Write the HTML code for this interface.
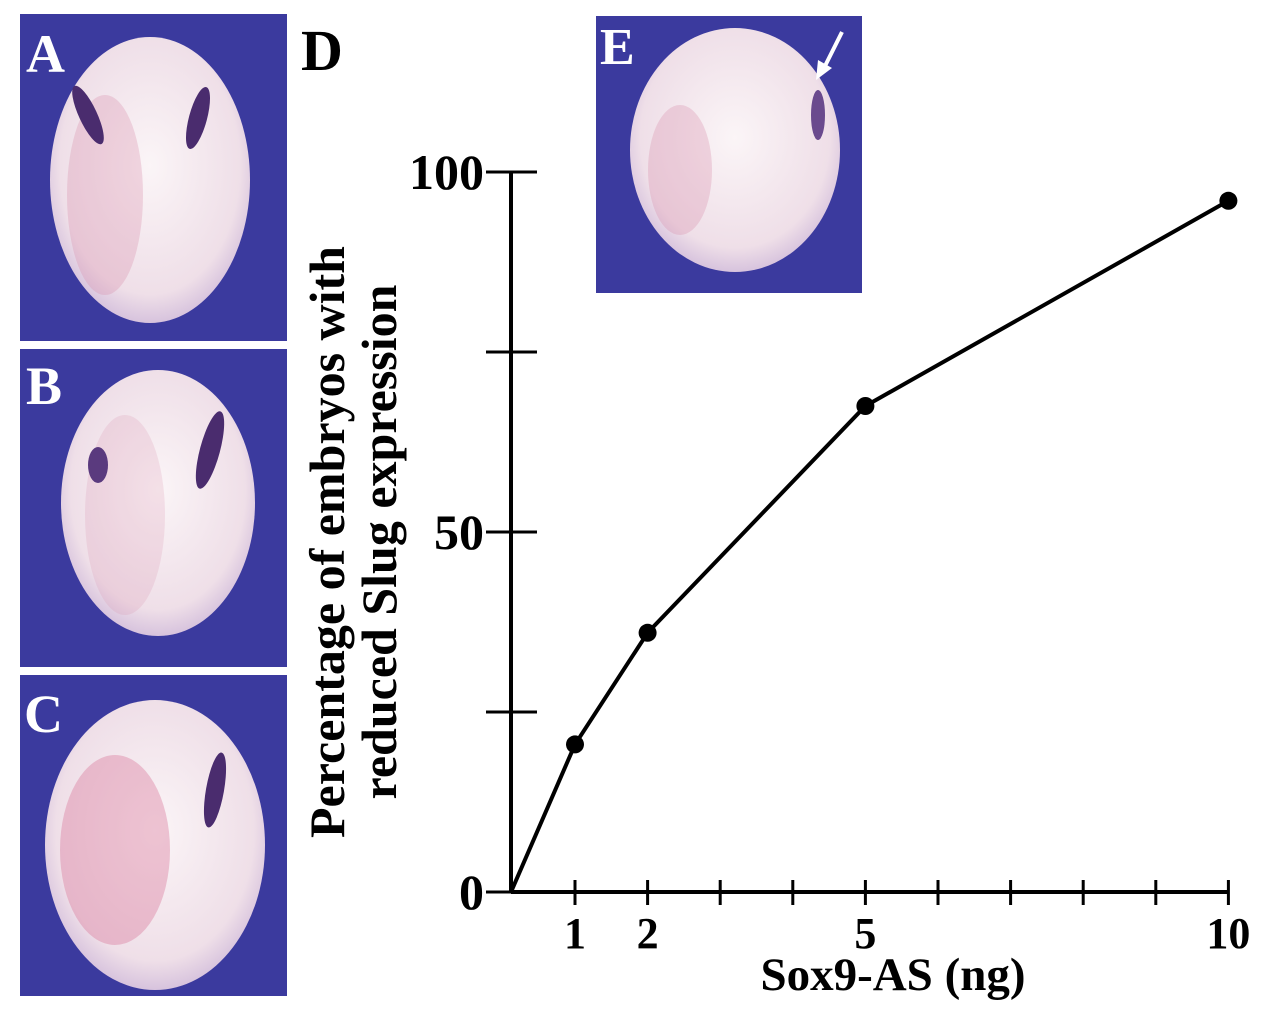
<!DOCTYPE html>
<html><head><meta charset="utf-8"><style>
body{margin:0;background:#fff;width:1280px;height:1015px;overflow:hidden;font-family:"Liberation Serif",serif}
svg{position:absolute;left:0;top:0}
</style></head><body>
<svg width="1280" height="1015" viewBox="0 0 1280 1015">
<defs>
<radialGradient id="emb" cx="0.5" cy="0.45" r="0.6">
<stop offset="0" stop-color="#fbf5f7"/><stop offset="0.75" stop-color="#efdfe8"/><stop offset="1" stop-color="#cbb5d8"/>
</radialGradient>
</defs>
<g>
<rect x="20" y="14" width="267" height="327" fill="#3b3a9e"/>
<ellipse cx="150" cy="180" rx="100" ry="143" fill="url(#emb)"/>
<ellipse cx="105" cy="195" rx="38" ry="100" fill="#d88aa8" opacity="0.3"/>
<ellipse cx="88" cy="115" rx="9" ry="32" fill="#4a2c6e" transform="rotate(-25 88 115)"/>
<ellipse cx="198" cy="118" rx="9" ry="32" fill="#4a2c6e" transform="rotate(15 198 118)"/>
<text x="26" y="72" font-size="54" font-weight="bold" fill="#fff">A</text>
</g>
<g>
<rect x="20" y="349" width="267" height="318" fill="#3b3a9e"/>
<ellipse cx="158" cy="503" rx="97" ry="133" fill="url(#emb)"/>
<ellipse cx="125" cy="515" rx="40" ry="100" fill="#d88aa8" opacity="0.2"/>
<ellipse cx="98" cy="465" rx="10" ry="18" fill="#5a3a7e"/>
<ellipse cx="210" cy="450" rx="10" ry="40" fill="#4a2c6e" transform="rotate(15 210 450)"/>
<text x="26" y="404" font-size="54" font-weight="bold" fill="#fff">B</text>
</g>
<g>
<rect x="20" y="675" width="267" height="321" fill="#3b3a9e"/>
<ellipse cx="155" cy="845" rx="110" ry="145" fill="url(#emb)"/>
<ellipse cx="115" cy="850" rx="55" ry="95" fill="#d9789c" opacity="0.4"/>
<ellipse cx="215" cy="790" rx="9" ry="38" fill="#4a2c6e" transform="rotate(10 215 790)"/>
<text x="24" y="732" font-size="54" font-weight="bold" fill="#fff">C</text>
</g>
<g>
<rect x="596" y="16" width="266" height="277" fill="#3b3a9e"/>
<ellipse cx="735" cy="150" rx="105" ry="122" fill="url(#emb)"/>
<ellipse cx="680" cy="170" rx="32" ry="65" fill="#d88aa8" opacity="0.3"/>
<ellipse cx="818" cy="115" rx="7" ry="25" fill="#6a4a8e"/>
<line x1="842" y1="32" x2="823" y2="70" stroke="#fff" stroke-width="4"/>
<polygon points="816,80 818,60 832,68" fill="#fff"/>
<text x="600" y="64" font-size="52" font-weight="bold" fill="#fff">E</text>
</g>
<text x="301" y="70" font-size="58" font-weight="bold" fill="#000">D</text>
<g id="chart"></g>
</svg>
<script>
const doses=[0,1,2,5,10];
const percents=[0,20.5,36,67.5,96];
const yTicks=[0,25,50,75,100];
const yTickLabels=["0","","50","","100"];
const xTicks=[1,2,3,4,5,6,7,8,9,10];
const xTickLabels=["1","2","","","5","","","","","10"];
const NS="http://www.w3.org/2000/svg";
const g=document.getElementById('chart');
function xs(v){return v===0?511:575+(v-1)*72.6;}
function ys(v){return 892-v*7.2;}
function mk(t,a){const e=document.createElementNS(NS,t);for(const k in a)e.setAttribute(k,a[k]);g.appendChild(e);return e;}
let e=mk('line',{x1:511,y1:ys(100),x2:511,y2:892,stroke:'#000','stroke-width':4});


e=mk('line',{x1:511,y1:892,x2:xs(10),y2:892,stroke:'#000','stroke-width':4});


yTicks.forEach((v,i)=>{
 let t=mk('line',{x1:486,y1:ys(v),x2:537,y2:ys(v),stroke:'#000','stroke-width':3});
 
 
 if(yTickLabels[i]){let l=mk('text',{x:484,y:ys(v)+17,'text-anchor':'end','font-size':50,'font-weight':'bold'});l.textContent=yTickLabels[i];
 
 }
});
xTicks.forEach((v,i)=>{
 let t=mk('line',{x1:xs(v),y1:880,x2:xs(v),y2:905,stroke:'#000','stroke-width':3});
 
 
 if(xTickLabels[i]){let l=mk('text',{x:xs(v),y:948,'text-anchor':'middle','font-size':44,'font-weight':'bold'});l.textContent=xTickLabels[i];
 
 }
});
let pts=doses.map((d,i)=>xs(d)+','+ys(percents[i])).join(' ');
e=mk('polyline',{points:pts,fill:'none',stroke:'#000','stroke-width':4});


doses.forEach((d,i)=>{if(i===0)return;
 let c=mk('circle',{cx:xs(d),cy:ys(percents[i]),r:9,fill:'#000'});
 
 
});
e=mk('text',{x:893,y:990,'text-anchor':'middle','font-size':47,'font-weight':'bold'});e.textContent='Sox9-AS (ng)';


e=mk('text',{x:0,y:0,'text-anchor':'middle','font-size':50,'font-weight':'bold',transform:'translate(344,542) rotate(-90)'});


const t1=document.createElementNS(NS,'tspan');t1.setAttribute('x',0);t1.setAttribute('dy',0);t1.textContent='Percentage of embryos with';e.appendChild(t1);
const t2=document.createElementNS(NS,'tspan');t2.setAttribute('x',0);t2.setAttribute('dy',52);t2.textContent='reduced Slug expression';e.appendChild(t2);
</script>
</body></html>
